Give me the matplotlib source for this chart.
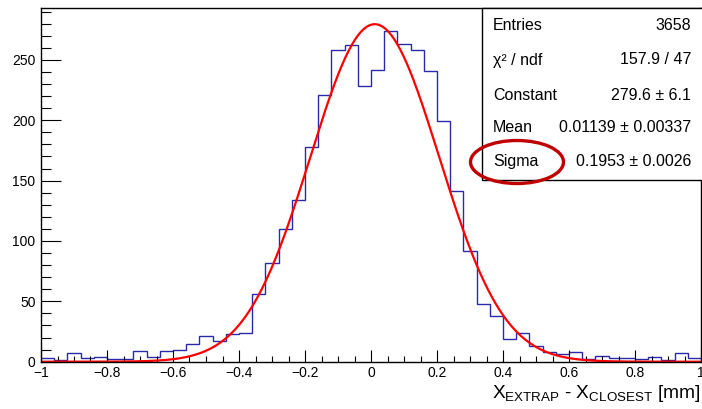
import numpy as np
import matplotlib
matplotlib.use("Agg")
import matplotlib.pyplot as plt
from matplotlib.patches import Ellipse, Rectangle
from matplotlib.ticker import MultipleLocator

plt.rcParams['font.family'] = ['Liberation Sans', 'DejaVu Sans']
plt.rcParams['mathtext.default'] = 'regular'

# ---- data ----
bin_edges_range = (-1.0, 1.0)
n_bins = 50
counts = [3, 1, 7, 3, 4, 2, 2, 9, 4, 9,
          10, 15, 21, 17, 23, 24, 56, 82, 110, 134,
          178, 221, 258, 262, 228, 242, 274, 263, 258, 241,
          199, 141, 92, 48, 38, 19, 24, 13, 8, 6,
          8, 2, 5, 3, 3, 2, 4, 1, 7, 3]
fit_constant = 279.6
fit_mean = 0.01139
fit_sigma = 0.1953
stat_labels = ["Entries", "χ² / ndf", "Constant", "Mean", "Sigma"]
stat_values = ["3658", "157.9 / 47", "279.6 ± 6.1", "0.01139 ± 0.00337", "0.1953 ± 0.0026"]
xlabel = r"$X_{EXTRAP}$ - $X_{CLOSEST}$ [mm]"

W, H = 702, 409
fig = plt.figure(figsize=(W / 100, H / 100), dpi=100)
ax = fig.add_axes([41 / W, 1 - 361.7 / H, 660 / W, (361.7 - 8) / H])

edges = np.linspace(bin_edges_range[0], bin_edges_range[1], n_bins + 1)
ax.stairs(counts, edges, color='#2a2aa8', lw=1.0, baseline=None)

xf = np.linspace(-1, 1, 600)
yf = fit_constant * np.exp(-0.5 * ((xf - fit_mean) / fit_sigma) ** 2)
ax.plot(xf, yf, color='#ff0000', lw=1.6)

ax.set_xlim(-1, 1)
ax.set_ylim(0, 293)
ax.xaxis.set_major_locator(MultipleLocator(0.2))
ax.xaxis.set_minor_locator(MultipleLocator(0.05))
ax.yaxis.set_major_locator(MultipleLocator(50))
ax.yaxis.set_minor_locator(MultipleLocator(10))

def xfmt(v, p):
    if abs(v) < 1e-9:
        return "0"
    if abs(abs(v) - 1) < 1e-9:
        return ("−1" if v < 0 else "1")
    return f"{v:.1f}".replace("-", "−")
ax.xaxis.set_major_formatter(plt.FuncFormatter(xfmt))

ax.tick_params(axis='x', which='major', direction='in', length=8.5, width=0.8,
               labelsize=10, pad=3, top=False)
ax.tick_params(axis='x', which='minor', direction='in', length=4.3, width=0.8, top=False)
ax.tick_params(axis='y', which='major', direction='in', length=14.4, width=0.8,
               labelsize=10, pad=4, right=False)
ax.tick_params(axis='y', which='minor', direction='in', length=7, width=0.8, right=False)
for s in ax.spines.values():
    s.set_linewidth(1.0)
    s.set_color('black')

fig.text(700 / W, 1 - 398 / H, xlabel, ha='right', va='baseline', fontsize=13.8)

# stats box
box = Rectangle((482 / W, 1 - 180 / H), (W - 482 + 5) / W, (180 - 8) / H,
                transform=fig.transFigure, facecolor='white', edgecolor='black',
                lw=1.0, zorder=5)
fig.patches.append(box)
rows_y = [26, 60, 95, 128, 162]
for lab, val, yy in zip(stat_labels, stat_values, rows_y):
    fig.text(493 / W, 1 - yy / H, lab, ha='left', va='center', fontsize=11.5, zorder=6)
    fig.text(691 / W, 1 - yy / H, val, ha='right', va='center', fontsize=11.5, zorder=6)

ell = Ellipse((517 / W, 1 - 162 / H), 93 / W, 43 / H, transform=fig.transFigure,
              facecolor='none', edgecolor='#c00000', lw=2.4, zorder=7)
fig.patches.append(ell)

fig.savefig("out.png", dpi=100)
